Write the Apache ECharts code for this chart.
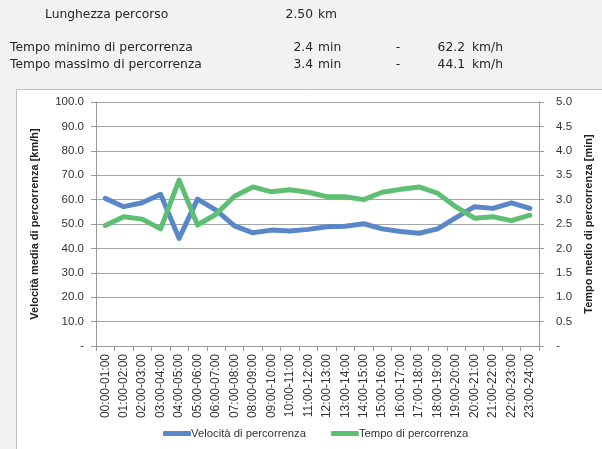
<!DOCTYPE html>
<html><head><meta charset="utf-8">
<script src="https://cdn.jsdelivr.net/npm/echarts@6/dist/echarts.min.js"></script>
<style>html,body{margin:0;padding:0;background:#f2f2f2;}#c{width:602px;height:449px;}</style>
</head><body><div id="c"></div>
<script>
var categories = ['00:00-01:00','01:00-02:00','02:00-03:00','03:00-04:00','04:00-05:00','05:00-06:00','06:00-07:00','07:00-08:00','08:00-09:00','09:00-10:00','10:00-11:00','11:00-12:00','12:00-13:00','13:00-14:00','14:00-15:00','15:00-16:00','16:00-17:00','17:00-18:00','18:00-19:00','19:00-20:00','20:00-21:00','21:00-22:00','22:00-23:00','23:00-24:00'];
var speedKmh = [60.5,57.1,58.7,62.2,44.1,60.2,55.7,49.2,46.4,47.5,47.1,47.8,48.9,49.1,50.1,48.0,46.9,46.2,48.0,52.6,57.1,56.4,58.7,56.4];
var timeMin = [2.47,2.65,2.60,2.40,3.40,2.48,2.70,3.07,3.26,3.16,3.20,3.15,3.06,3.06,3.00,3.15,3.21,3.26,3.13,2.85,2.62,2.65,2.57,2.68];
var headerRows = [
  ['Lunghezza percorso','2.50','km','','',''],
  ['Tempo minimo di percorrenza','2.4','min','-','62.2','km/h'],
  ['Tempo massimo di percorrenza','3.4','min','-','44.1','km/h']
];
var seriesNames = ['Velocità di percorrenza','Tempo di percorrenza'];
var axisNames = ['Velocità media di percorrenza [km/h]','Tempo medio di percorrenza [min]'];

var hFont = 'DejaVu Sans';
var rowY = [15, 48, 65];
var graphics = [{type:'rect', shape:{x:16.5,y:89.5,width:600,height:400}, style:{fill:'#ffffff',stroke:'#bfbfbf',lineWidth:1}, z:-10}];
headerRows.forEach(function(r,i){
  var t = function(txt,x,align){ if(!txt) return; graphics.push({type:'text', x:x, y:rowY[i], style:{text:txt, font:'12.3px "'+hFont+'"', fill:'#262626', align:align, verticalAlign:'middle'}}); };
  t(r[0], i===0 ? 45 : 10, 'left');
  t(r[1], 313, 'right');
  t(r[2], 318, 'left');
  t(r[3], 398, 'center');
  t(r[4], 465, 'right');
  t(r[5], 472, 'left');
});

var chart = echarts.init(document.getElementById('c'));
var axFont = 'Liberation Sans';
chart.setOption({
  animation:false,
  backgroundColor:'transparent',
  graphic: graphics,
  grid:{left:96, right:58, top:102, bottom:103},
  legend:{top:428, left:163, padding:0, itemWidth:28, itemHeight:5, itemGap:25, icon:'roundRect',
    textStyle:{fontFamily:axFont, fontSize:11.3, color:'#333', padding:[0,0,0,-5]},
    data:seriesNames},
  xAxis:{type:'category', data:categories, boundaryGap:true,
    axisLine:{lineStyle:{color:'#999'}},
    axisTick:{show:true, alignWithLabel:false, length:5, lineStyle:{color:'#999'}},
    axisLabel:{rotate:90, interval:0, margin:8, fontFamily:axFont, fontSize:12, color:'#333'}},
  yAxis:[
    {type:'value', min:0, max:100, interval:10, name:axisNames[0], nameLocation:'middle', nameGap:56,
     nameTextStyle:{fontFamily:axFont, fontSize:11, fontWeight:'bold', color:'#222'},
     axisLine:{show:true, lineStyle:{color:'#999'}}, axisTick:{show:true, length:5, lineStyle:{color:'#999'}},
     splitLine:{lineStyle:{color:'#a6a6a6'}},
     axisLabel:{margin:12, fontFamily:axFont, fontSize:11.5, color:'#333', formatter:function(v){return v===0?'-':v.toFixed(1);}}},
    {type:'value', min:0, max:5, interval:0.5, name:axisNames[1], nameLocation:'middle', nameGap:43, nameRotate:90,
     nameTextStyle:{fontFamily:axFont, fontSize:11, fontWeight:'bold', color:'#222'},
     axisLine:{show:true, lineStyle:{color:'#999'}}, axisTick:{show:true, length:5, lineStyle:{color:'#999'}},
     splitLine:{show:false},
     axisLabel:{margin:17, fontFamily:axFont, fontSize:11.5, color:'#333', formatter:function(v){return v===0?'-':v.toFixed(1);}}}
  ],
  series:[
    {name:seriesNames[0], type:'line', yAxisIndex:0, data:speedKmh, showSymbol:false, symbol:'none',
     lineStyle:{width:5, color:'#5a87c8', cap:'round', join:'round'}, itemStyle:{color:'#5a87c8'}},
    {name:seriesNames[1], type:'line', yAxisIndex:1, data:timeMin, showSymbol:false, symbol:'none',
     lineStyle:{width:5, color:'#5ebf73', cap:'round', join:'round'}, itemStyle:{color:'#5ebf73'}}
  ]
});
</script></body></html>
